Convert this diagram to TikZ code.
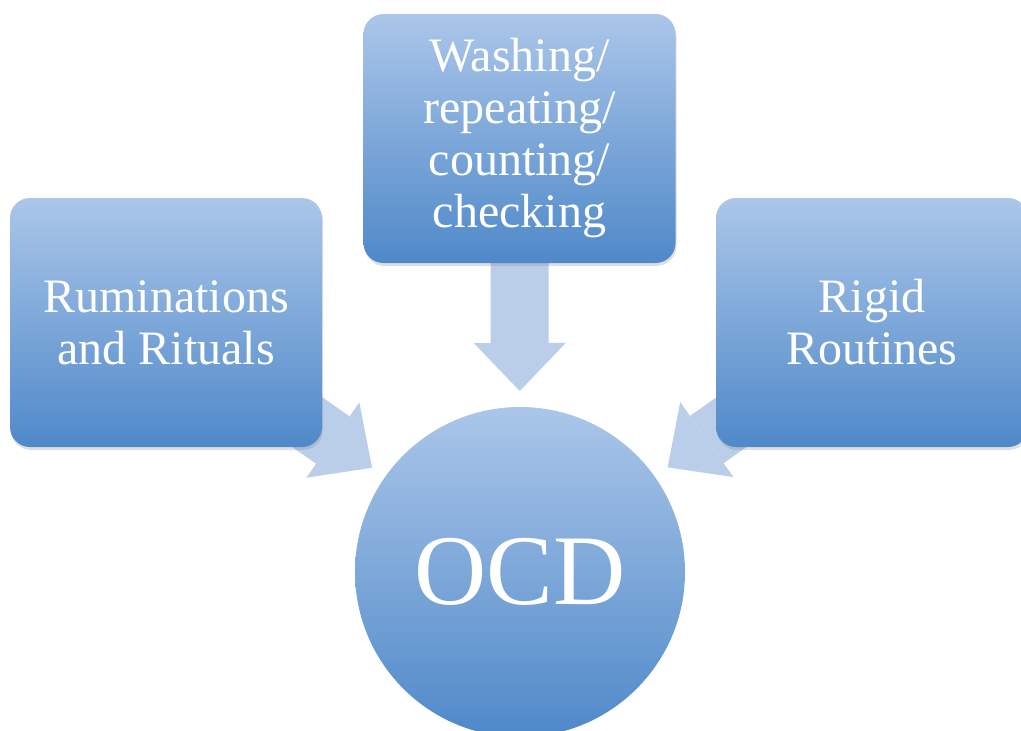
\documentclass[tikz,border=0pt]{standalone}
\usepackage{fontspec}
\setmainfont{Liberation Serif}
\usetikzlibrary{arrows.meta,shadows,backgrounds}
\definecolor{boxtop}{RGB}{171,198,233}
\definecolor{boxbot}{RGB}{79,137,201}
\definecolor{arrowfill}{RGB}{186,206,234}

\begin{document}
\begin{tikzpicture}[x=1pt,y=1pt,
		box/.style={rectangle,rounded corners=20pt,minimum width=312pt,minimum height=249pt,
			top color=boxtop,bottom color=boxbot,text=white,align=center,
			font=\fontsize{48}{52}\selectfont,
			drop shadow={opacity=0.25,shadow xshift=1pt,shadow yshift=-3pt}},
		blockarrow/.style={draw=arrowfill,line width=58pt,
			-{Triangle[width=92pt,length=48pt,line width=0pt]},shorten >=181pt}]
		\useasboundingbox (0,0) rectangle (1021,-731);
		% the three boxes
		\node [box] (rum) at (166,-322.5) {Ruminations\\and Rituals};
		\node [box] (wash) at (519.5,-138.5) {Washing/\\repeating/\\counting/\\checking};
		\node [box] (rigid) at (872,-322.5) {Rigid\\Routines};
		% the circle
		\node [circle,minimum size=330pt,top color=boxtop,bottom color=boxbot,text=white,
			font=\fontsize{100}{110}\selectfont] (ocd) at (520,-572) {OCD};
		% arrows behind the boxes
		\begin{pgfonlayer}{background}
			\draw [blockarrow] (rum.center) -- (ocd.center);
			\draw [blockarrow] (wash.center) -- (ocd.center);
			\draw [blockarrow] (rigid.center) -- (ocd.center);
		\end{pgfonlayer}
	\end{tikzpicture}
\end{document}
